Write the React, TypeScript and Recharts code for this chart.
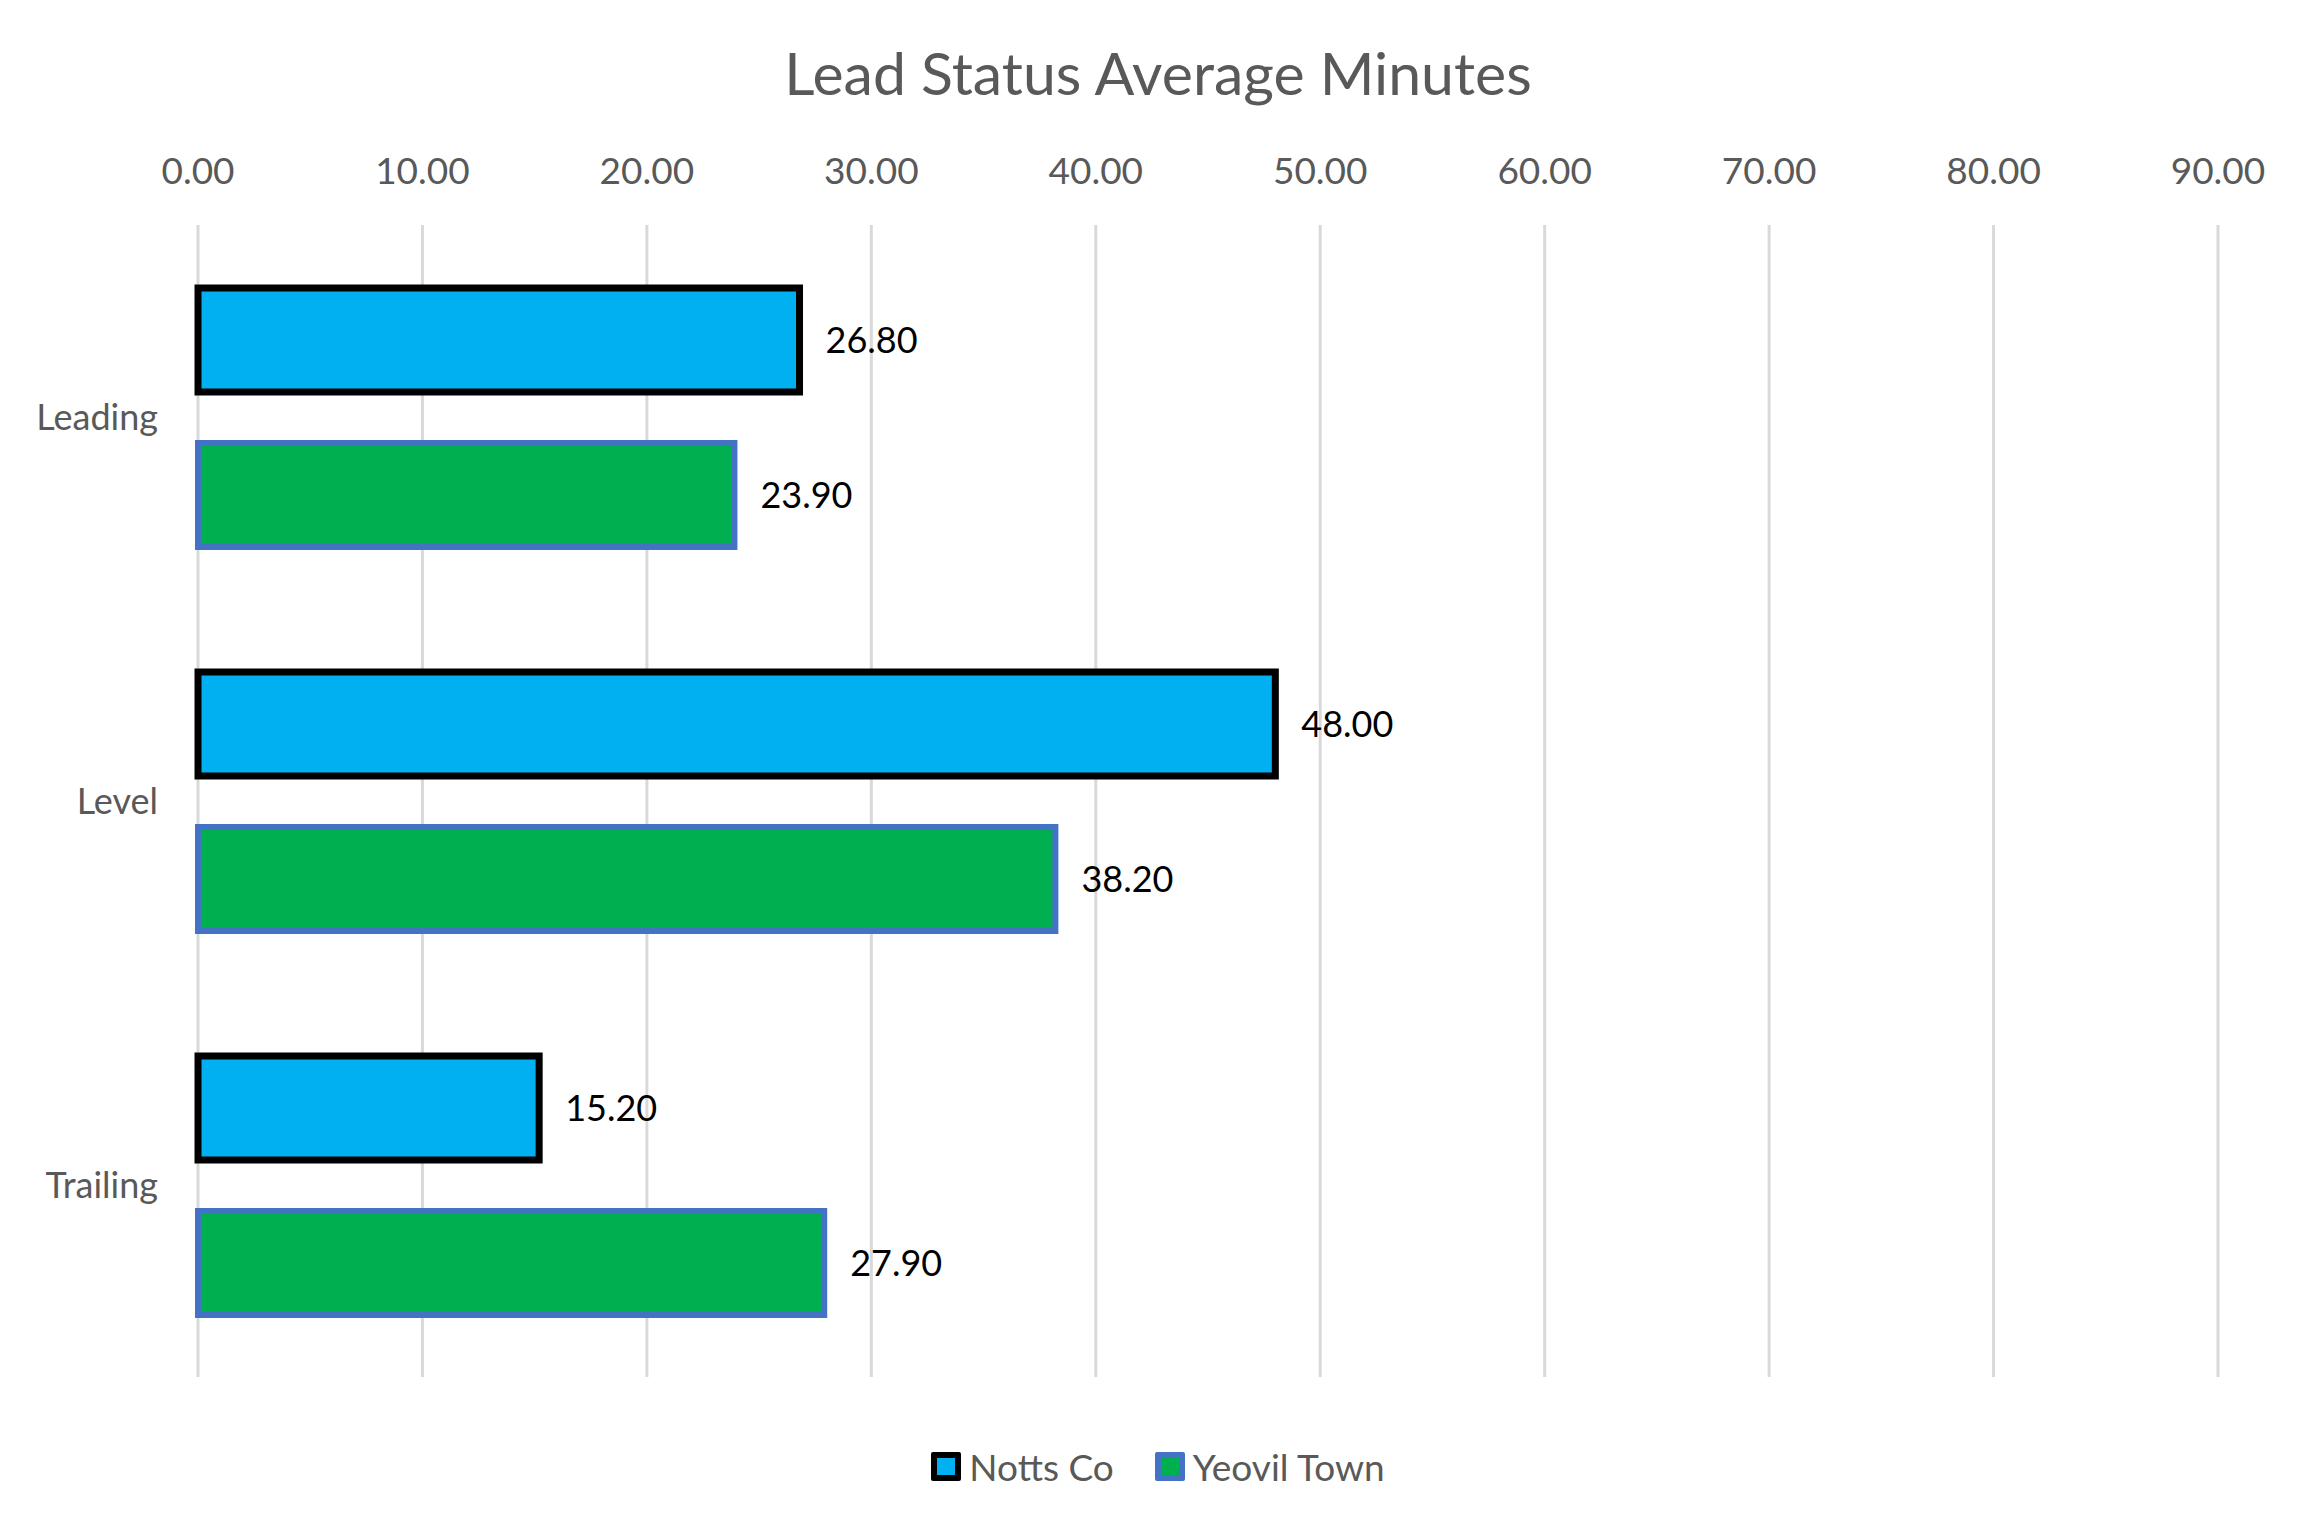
import { Bar, BarChart, CartesianGrid, LabelList, Legend, XAxis, YAxis } from "recharts"

const categories = ["Leading", "Level", "Trailing"]
const nottsCo = [26.8, 48.0, 15.2]
const yeovilTown = [23.9, 38.2, 27.9]
const xTicks = [0, 10, 20, 30, 40, 50, 60, 70, 80, 90]

const data = categories.map((name, i) => ({
    name,
    notts: nottsCo[i],
    yeovil: yeovilTown[i],
}))

const FONT = "Lato, 'Open Sans', sans-serif"
const GREY = "#595959"

const legendItems = [
    { label: "Notts Co", fill: "#00B0F0", stroke: "#000000" },
    { label: "Yeovil Town", fill: "#00B050", stroke: "#4472C4" },
]

function ChartLegend() {
    return (
        <div
            style={{
                display: "flex",
                justifyContent: "center",
                alignItems: "center",
                height: 60,
                fontFamily: FONT,
                fontSize: 37,
                color: GREY,
            }}
        >
            {legendItems.map((item, i) => (
                <div key={item.label} style={{ display: "flex", alignItems: "center", marginLeft: i === 0 ? 0 : 41 }}>
                    <span
                        style={{
                            display: "inline-block",
                            width: 18,
                            height: 17,
                            background: item.fill,
                            border: `6px solid ${item.stroke}`,
                            borderRadius: 2,
                            marginRight: 8,
                        }}
                    />
                    <span>{item.label}</span>
                </div>
            ))}
        </div>
    )
}

export default function App() {
    return (
        <div style={{ position: "relative", width: 2300, height: 1516 }}>
            <div
                style={{
                    position: "absolute",
                    top: 30,
                    left: 0,
                    width: 2300,
                    textAlign: "center",
                    fontFamily: FONT,
                    fontSize: 59,
                    color: GREY,
                    lineHeight: "70px",
                }}
            >
                Lead Status Average Minutes
            </div>
            <BarChart
                width={2300}
                height={1516}
                data={data}
                layout="vertical"
                margin={{ top: 157, right: 90, bottom: 87, left: 0 }}
                barSize={104}
                barGap={51}
            >
                <CartesianGrid horizontal={false} stroke="#D9D9D9" strokeWidth={3} />
                <XAxis
                    type="number"
                    orientation="top"
                    domain={[0, 90]}
                    ticks={xTicks}
                    tickFormatter={(v: number) => v.toFixed(2)}
                    axisLine={false}
                    tickLine={false}
                    tickSize={0}
                    tickMargin={41}
                    height={60}
                    tick={{ fill: GREY, fontSize: 37, fontFamily: FONT }}
                    interval={0}
                />
                <YAxis
                    type="category"
                    dataKey="name"
                    width={190}
                    axisLine={false}
                    tickLine={false}
                    tickSize={0}
                    tickMargin={40}
                    tick={{ fill: GREY, fontSize: 36, fontFamily: FONT }}
                />
                <Legend content={<ChartLegend />} verticalAlign="bottom" wrapperStyle={{ bottom: 28, left: 0, width: 2300 }} />
                <Bar dataKey="notts" name="Notts Co" fill="#00B0F0" stroke="#000000" strokeWidth={7} isAnimationActive={false}>
                    <LabelList
                        dataKey="notts"
                        position="right"
                        offset={26}
                        formatter={(v: number) => v.toFixed(2)}
                        style={{ fill: "#000000", fontSize: 36, fontFamily: FONT }}
                    />
                </Bar>
                <Bar dataKey="yeovil" name="Yeovil Town" fill="#00B050" stroke="#4472C4" strokeWidth={6} isAnimationActive={false}>
                    <LabelList
                        dataKey="yeovil"
                        position="right"
                        offset={26}
                        formatter={(v: number) => v.toFixed(2)}
                        style={{ fill: "#000000", fontSize: 36, fontFamily: FONT }}
                    />
                </Bar>
            </BarChart>
        </div>
    )
}
